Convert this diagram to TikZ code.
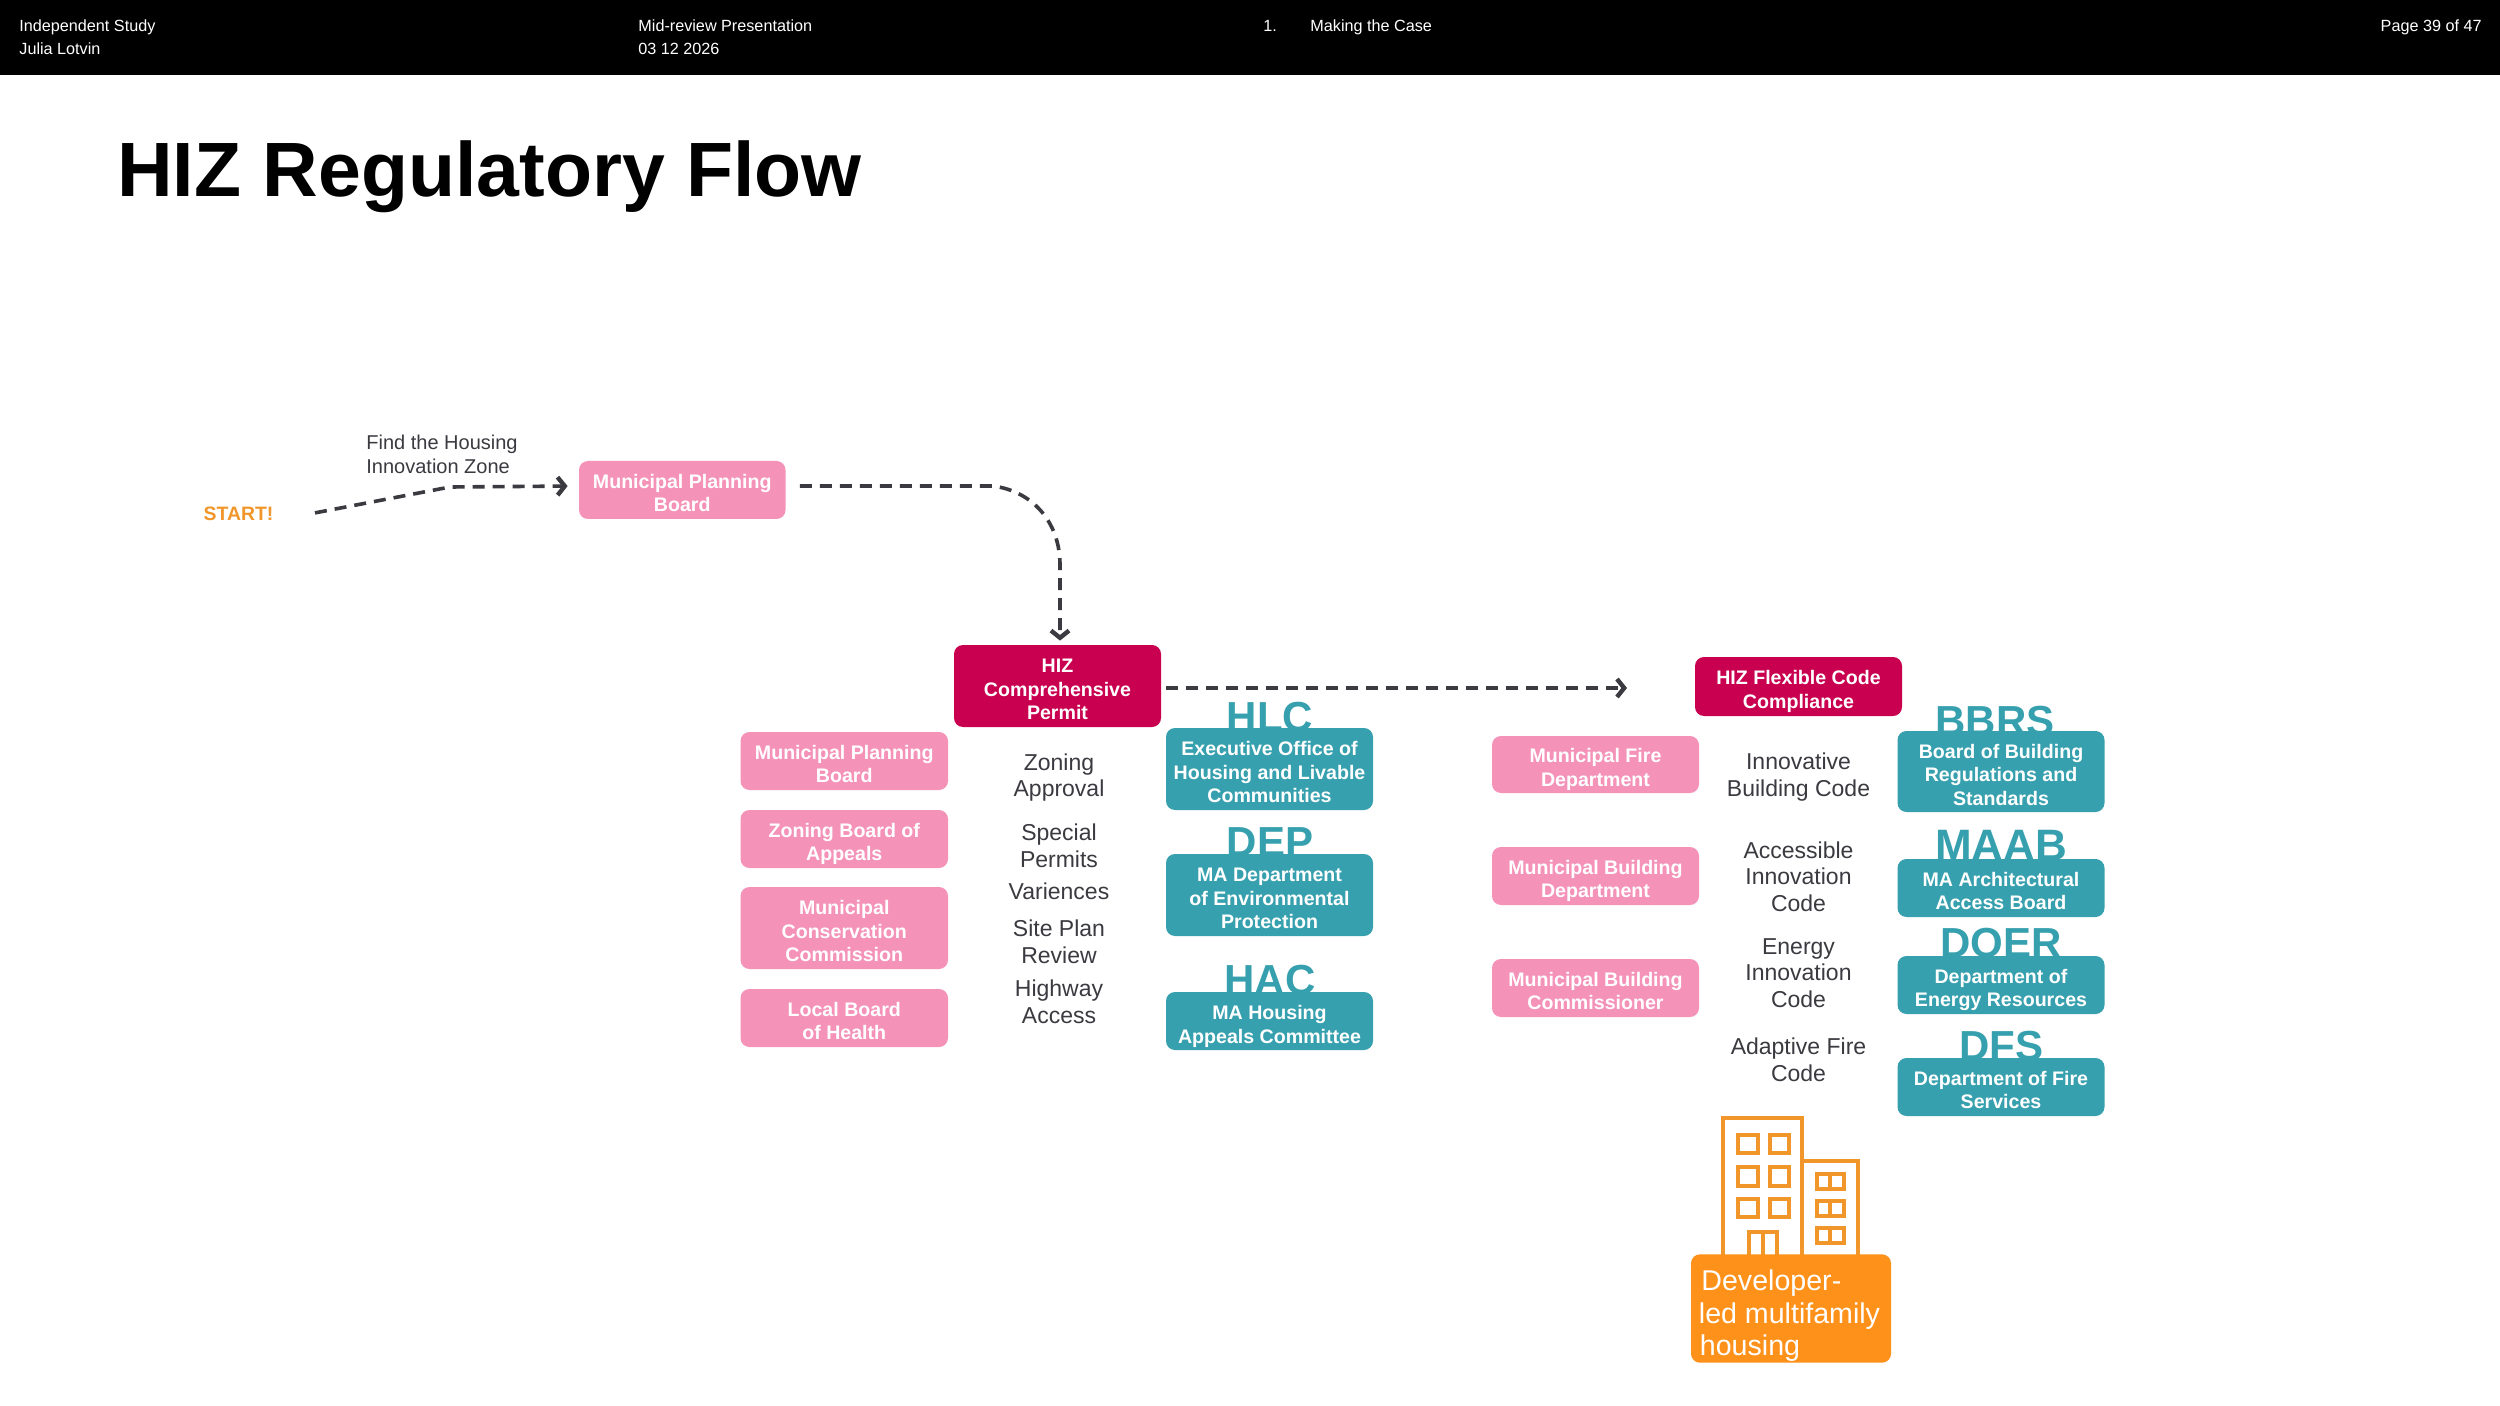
\documentclass[tikz,border=0pt]{standalone}
\usepackage{fontspec}
\setmainfont{Liberation Sans}
\usetikzlibrary{arrows.meta}
\definecolor{pinkbox}{HTML}{F492B8}
\definecolor{crimbox}{HTML}{C8004F}
\definecolor{tealbox}{HTML}{37A0AE}
\definecolor{orangebox}{HTML}{FE9119}
\definecolor{orangeline}{HTML}{F0962A}
\definecolor{inkdark}{HTML}{3A3A40}
\newcommand{\boxfont}{\fontsize{9.8pt}{11.7pt}\selectfont\bfseries}
\newcommand{\midfont}{\fontsize{11.5pt}{13.3pt}\selectfont}
\newcommand{\stdstrut}{10.3pt}
\newcommand{\lowstrut}{11.9pt}
\tikzset{
  x=0.5pt,y=-0.5pt,
  boxbase/.style={rounded corners=4.5pt,text=white,align=center,inner sep=0pt,font=\boxfont},
  pinkb/.style={boxbase,fill=pinkbox},
  crimb/.style={boxbase,fill=crimbox},
  tealb/.style={boxbase,fill=tealbox},
  midtext/.style={align=center,inner sep=0pt,text=inkdark,font=\midfont},
  acro/.style={anchor=base,inner sep=0pt,text=tealbox,font=\fontsize{21pt}{21pt}\selectfont\bfseries},
  headt/.style={anchor=base west,inner sep=0pt,text=white,font=\fontsize{8.1pt}{9pt}\selectfont},
  flow/.style={draw=inkdark,line width=1.8pt,dash pattern=on 6pt off 4pt,rounded corners=1pt,
     -{Straight Barb[length=3.6pt,width=9pt,line width=2.2pt]}},
  bld/.style={draw=orangeline,line width=1.9pt,fill=none}
}
% box from corners: #1 strut, #2 name, #3 style, #4 x0, #5 y0, #6 x1, #7 y1, #8 text
\newcommand{\cornerbox}[8]{%
  \pgfmathsetmacro{\bw}{(#6-#4)*0.5}\pgfmathsetmacro{\bh}{(#7-#5)*0.5}%
  \node[#3,minimum width=\bw pt,minimum height=\bh pt] (#2) at ({(#4+#6)/2},{(#5+#7)/2}) {\rule{0pt}{#1}#8};}
\begin{document}
\begin{tikzpicture}
\useasboundingbox (0,0) rectangle (2500,1406);
\fill[white] (0,0) rectangle (2500,1406);
\fill[black] (0,0) rectangle (2500,75);
% header
\node[headt] (h1) at (19,32) {Independent Study};
\node[headt] (h2) at (19,55) {Julia Lotvin};
\node[headt] (h3) at (638,32) {Mid-review Presentation};
\node[headt] (h4) at (638,55) {03 12 2026};
\node[headt] (h5) at (1263,32) {1.};
\node[headt] (h6) at (1310,32) {Making the Case};
\node[headt,anchor=base east] (h7) at (2482,32) {Page 39 of 47};
% title
\node[anchor=base west,inner sep=0pt,text=black,font=\fontsize{38.5pt}{40pt}\selectfont\bfseries] (title) at (117,197) {HIZ Regulatory Flow};
% start
\node[inner sep=0pt,text=orangeline,font=\fontsize{9.7pt}{11pt}\selectfont\bfseries] (start) at (238.5,514) {START!};
\node[anchor=west,align=left,inner sep=0pt,text=inkdark,font=\fontsize{10pt}{11.9pt}\selectfont] (find) at (366,454) {Find the Housing\\Innovation Zone};
\cornerbox{\stdstrut}{mpb}{pinkb}{579}{461}{785.5}{519}{Municipal Planning\\Board}
% acronyms behind boxes
\node[acro] (aHLC) at (1270,731) {HLC};
\node[acro] (aDEP) at (1270,856) {DEP};
\node[acro] (aHAC) at (1270,994) {HAC};
\node[acro] (aBBRS) at (1995,735) {BBRS};
\node[acro,font=\fontsize{22pt}{22pt}\selectfont\bfseries] (aMAAB) at (2001,860) {MAAB};
\node[acro] (aDOER) at (2001,957) {DOER};
\node[acro] (aDFS) at (2001,1060) {DFS};
% permit column
\cornerbox{\stdstrut}{hizc}{crimb}{954}{645}{1161}{727}{HIZ\\Comprehensive\\Permit}
\cornerbox{\stdstrut}{p1}{pinkb}{740.5}{732}{948}{790}{Municipal Planning\\Board}
\cornerbox{\lowstrut}{p2}{pinkb}{740.5}{810}{948}{868}{Zoning Board of\\Appeals}
\cornerbox{\stdstrut}{p3}{pinkb}{740.5}{887}{948}{969}{Municipal\\Conservation\\Commission}
\cornerbox{\stdstrut}{p4}{pinkb}{740.5}{989}{948}{1047}{Local Board\\of Health}
\cornerbox{\stdstrut}{t1}{tealb}{1166}{728}{1373}{810}{Executive Office of\\Housing and Livable\\Communities}
\cornerbox{\stdstrut}{t2}{tealb}{1166}{854}{1373}{936}{MA Department\\of Environmental\\Protection}
\cornerbox{12.7pt}{t3}{tealb}{1166}{992}{1373}{1050}{MA Housing\\Appeals Committee}
\node[midtext] (m1) at (1059,777.5) {Zoning\\Approval};
\node[midtext] (m2) at (1059,846) {Special\\Permits};
\node[midtext] (m3) at (1059,891.5) {Variences};
\node[midtext] (m4) at (1059,942) {Site Plan\\Review};
\node[midtext] (m5) at (1059,1002) {Highway\\Access};
% code column
\cornerbox{\lowstrut}{hizf}{crimb}{1695}{657}{1902}{716}{HIZ Flexible Code\\Compliance}
\cornerbox{\lowstrut}{q1}{pinkb}{1492}{736}{1699}{793}{Municipal Fire\\Department}
\cornerbox{\lowstrut}{q2}{pinkb}{1492}{847}{1699}{905}{Municipal Building\\Department}
\cornerbox{\stdstrut}{q3}{pinkb}{1492}{959}{1699}{1017}{Municipal Building\\Commissioner}
\cornerbox{\stdstrut}{u1}{tealb}{1897.5}{731}{2104.5}{812}{Board of Building\\Regulations and\\Standards}
\cornerbox{\stdstrut}{u2}{tealb}{1897.5}{859}{2104.5}{917}{MA Architectural\\Access Board}
\cornerbox{\lowstrut}{u3}{tealb}{1897.5}{956}{2104.5}{1014}{Department of\\Energy Resources}
\cornerbox{\stdstrut}{u4}{tealb}{1897.5}{1058}{2104.5}{1116}{Department of Fire\\Services}
\node[midtext] (n1) at (1798.5,777) {Innovative\\Building Code};
\node[midtext] (n2) at (1798.5,876.5) {Accessible\\Innovation\\Code};
\node[midtext] (n3) at (1798.5,973) {Energy\\Innovation\\Code};
\node[midtext] (n4) at (1798.5,1060) {Adaptive Fire\\Code};
% connectors
\coordinate (endA) at (1627,688);
\draw[flow,shorten <=21pt,shorten >=5.5pt] ([yshift=-3.4pt]start.east) -- (450,487) -- ([yshift=2pt]mpb.west);
\draw[flow,shorten <=7pt,shorten >=2pt,rounded corners=0pt] ([yshift=2pt]mpb.east) -- (992,486) .. controls (1030,490) and (1060,520) .. (1060,565) -- (hizc.north -| 1060,645);
\draw[flow,shorten <=2.5pt] ([yshift=-1pt]hizc.east) -- (endA);
% building
\draw[bld] (1723,1255) -- (1723,1118) -- (1802.3,1118) -- (1802.3,1255);
\draw[bld] (1802.3,1161) -- (1857.7,1161) -- (1857.7,1255);
\foreach \wx/\wy/\wa/\wb in {1738.3/1135/1757.7/1153.3,1770/1135/1788.7/1153.3,1738.3/1167.3/1757.7/1185.7,1770/1167.3/1788.7/1185.7,1738.3/1199/1757.7/1216.7,1770/1199/1788.7/1216.7}
  \draw[bld] (\wx,\wy) rectangle (\wa,\wb);
\draw[bld] (1749.3,1255) -- (1749.3,1232.3) -- (1776.7,1232.3) -- (1776.7,1255);
\draw[bld] (1763.3,1232.3) -- (1763.3,1255);
\foreach \wy/\wb in {1174.3/1189.3,1201/1216,1227.7/1242.7}{
  \draw[bld] (1816.7,\wy) rectangle (1844.3,\wb);
  \draw[bld] (1830.3,\wy) -- (1830.3,\wb);
}
\fill[orangebox,rounded corners=4.5pt] (1691,1254.3) rectangle (1891,1362.7);
\node[anchor=base west,inner sep=0pt,text=white,font=\fontsize{14.3pt}{16pt}\selectfont] (dev1) at (1701,1290) {Developer-};
\node[anchor=base west,inner sep=0pt,text=white,font=\fontsize{14.3pt}{16pt}\selectfont] (dev2) at (1698.5,1323) {led multifamily};
\node[anchor=base west,inner sep=0pt,text=white,font=\fontsize{14.3pt}{16pt}\selectfont] (dev3) at (1699.5,1355) {housing};
\end{tikzpicture}
\end{document}
